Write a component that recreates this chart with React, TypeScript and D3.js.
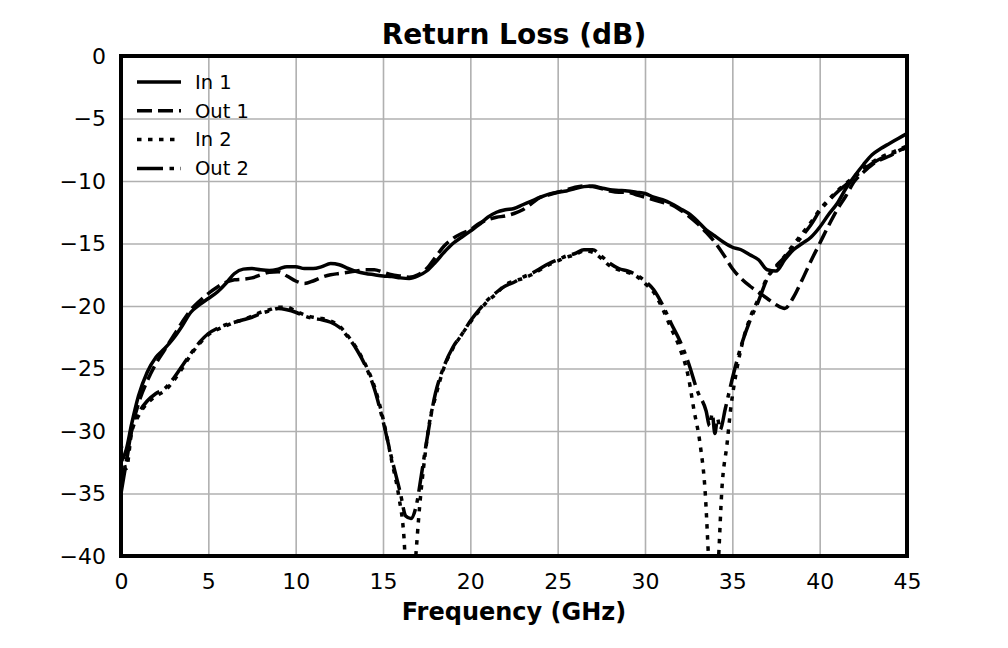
// App.tsx
import React, { useRef, useEffect } from 'react';
import * as d3 from 'd3';

// Frequency points (GHz) and return loss (dB)
const in1Freq = [
    0, 0.3, 0.6, 1, 1.5, 2, 2.5, 3, 3.5, 4, 4.5, 5, 5.5, 6, 6.5, 7, 7.5, 8, 8.5, 9, 9.5, 10,
    10.5, 11, 11.5, 12, 12.5, 13, 13.5, 14, 14.5, 15, 15.5, 16, 16.5, 17, 17.5, 18, 18.5, 19,
    19.5, 20, 20.5, 21, 21.5, 22, 22.5, 23, 23.5, 24, 24.5, 25, 25.5, 26, 26.5, 27, 27.5, 28,
    28.5, 29, 29.5, 30, 30.5, 31, 31.5, 32, 32.5, 33, 33.5, 34, 34.5, 35, 35.5, 36, 36.5, 37,
    37.5, 38, 38.5, 39, 39.5, 40, 40.5, 41, 41.5, 42, 42.5, 43, 43.5, 44, 44.5, 45,
];
const in1Values = [
    -32.5, -31.5, -29.5, -27.2, -25.3, -24.1, -23.4, -22.6, -21.6, -20.5, -19.9, -19.4, -18.9,
    -18.2, -17.4, -17.05, -17.0, -17.1, -17.15, -17.05, -16.85, -16.85, -17.0, -17.0, -16.85,
    -16.6, -16.7, -17.0, -17.25, -17.4, -17.5, -17.6, -17.65, -17.75, -17.8, -17.6, -17.2,
    -16.5, -15.7, -15.0, -14.5, -14.0, -13.5, -12.9, -12.5, -12.3, -12.2, -11.9, -11.6, -11.3,
    -11.05, -10.9, -10.8, -10.6, -10.45, -10.4, -10.55, -10.7, -10.75, -10.8, -10.9, -11.0,
    -11.3, -11.5, -11.8, -12.2, -12.6, -13.2, -13.9, -14.4, -14.9, -15.3, -15.5, -15.9, -16.3,
    -17.1, -17.2, -16.3, -15.5, -15.0, -14.5, -13.7, -12.7, -11.8, -10.6, -9.6, -8.7, -7.9,
    -7.4, -7.0, -6.6, -6.2,
];

const out1Freq = in1Freq;
const out1Values = [
    -34.0, -32.5, -30.0, -27.8, -26.0, -24.6, -23.5, -22.4, -21.3, -20.3, -19.6, -19.0, -18.5,
    -18.1, -17.9, -17.85, -17.75, -17.5, -17.3, -17.25, -17.6, -18.0, -18.2, -18.0, -17.7,
    -17.5, -17.4, -17.3, -17.2, -17.1, -17.1, -17.3, -17.5, -17.6, -17.7, -17.5, -17.0, -16.1,
    -15.2, -14.6, -14.2, -13.9, -13.4, -13.1, -12.9, -12.8, -12.6, -12.3, -11.8, -11.3, -11.1,
    -10.9, -10.7, -10.5, -10.4, -10.45, -10.6, -10.8, -10.9, -10.9, -11.1, -11.3, -11.5, -11.7,
    -11.9, -12.3, -12.8, -13.4, -14.1, -14.9, -15.9, -17.0, -17.8, -18.4, -18.9, -19.4, -19.9,
    -20.2, -19.3, -17.9, -16.4, -15.0, -13.6, -12.3, -11.2, -10.0, -9.3, -8.7, -8.3, -8.0,
    -7.6, -7.3,
];

const in2Freq = [
    0, 0.3, 0.6, 1, 1.5, 2, 2.5, 3, 3.5, 4, 4.5, 5, 5.5, 6, 6.5, 7, 7.5, 8, 8.5, 9, 9.5, 10,
    10.5, 11, 11.5, 12, 12.5, 13, 13.5, 14, 14.5, 15, 15.5, 15.9, 16.2, 16.5, 16.85, 17.1, 17.4,
    17.7, 18, 18.5, 19, 19.5, 20, 20.5, 21, 21.5, 22, 22.5, 23, 23.5, 24, 24.5, 25, 25.5, 26,
    26.5, 27, 27.5, 28, 28.5, 29, 29.5, 30, 30.5, 31, 31.5, 32, 32.5, 32.8, 33.15, 33.45,
    33.65, 33.9, 34.2, 34.4, 34.7, 34.9, 35.2, 35.5, 36, 36.5, 37, 37.5, 38, 38.5, 39, 39.5, 40,
    40.5, 41, 41.5, 42, 42.5, 43, 43.5, 44, 44.5, 45,
];
const in2Values = [
    -31.0, -33.0, -30.2, -28.8, -27.8, -27.2, -26.8, -26.0, -25.0, -23.9, -23.0, -22.3, -21.9,
    -21.6, -21.3, -21.1, -20.8, -20.5, -20.3, -20.1, -20.1, -20.4, -20.7, -20.9, -21.0, -21.2,
    -21.6, -22.4, -23.4, -24.7, -26.4, -29.0, -32.4, -35.2, -38.5, -47.0, -40.5, -36.0, -32.0,
    -29.0, -27.3, -24.9, -23.4, -22.3, -21.3, -20.4, -19.6, -19.0, -18.3, -18.0, -17.8, -17.5,
    -17.1, -16.7, -16.4, -16.1, -15.9, -15.6, -15.7, -16.2, -16.8, -17.1, -17.3, -17.6, -18.2,
    -18.9, -20.2, -21.8, -23.4, -25.8, -28.3, -31.0, -35.0, -40.5, -47.0, -40.5, -34.7, -31.0,
    -28.3, -25.5, -23.4, -21.0, -19.4, -17.7, -16.9, -16.0, -15.1, -14.2, -13.3, -12.3, -11.5,
    -10.8, -10.2, -9.6, -9.0, -8.5, -8.1, -7.8, -7.5, -7.2,
];

const out2Freq = [
    0, 0.3, 0.6, 1, 1.5, 2, 2.5, 3, 3.5, 4, 4.5, 5, 5.5, 6, 6.5, 7, 7.5, 8, 8.5, 9, 9.5, 10,
    10.5, 11, 11.5, 12, 12.5, 13, 13.5, 14, 14.5, 15, 15.5, 16, 16.3, 16.6, 16.9, 17.2, 17.5, 18,
    18.5, 19, 19.5, 20, 20.5, 21, 21.5, 22, 22.5, 23, 23.5, 24, 24.5, 25, 25.5, 26, 26.5, 27,
    27.5, 28, 28.5, 29, 29.5, 30, 30.5, 31, 31.5, 32, 32.5, 33, 33.5, 33.7, 33.85, 34, 34.15,
    34.3, 34.6, 35, 35.5, 36, 36.5, 37, 37.5, 38, 38.5, 39, 39.5, 40, 40.5, 41, 41.5, 42, 42.5,
    43, 43.5, 44, 44.5, 45,
];
const out2Values = [
    -35.0, -32.5, -30.0, -28.6, -27.6, -27.0, -26.6, -25.8, -24.8, -23.8, -22.9, -22.2, -21.8,
    -21.5, -21.3, -21.1, -20.9, -20.6, -20.4, -20.2, -20.3, -20.5, -20.8, -21.0, -21.1, -21.3,
    -21.7, -22.5, -23.5, -24.8, -26.6, -29.2, -32.2, -35.0, -36.8, -37.0, -36.0, -33.5, -30.8,
    -27.0, -24.8, -23.3, -22.3, -21.2, -20.3, -19.5, -18.9, -18.4, -18.1, -17.7, -17.4, -17.0,
    -16.6, -16.3, -16.0, -15.8, -15.5, -15.5, -16.0, -16.6, -17.0, -17.2, -17.5, -18.0, -18.7,
    -19.9, -21.4, -22.8, -24.6, -26.8, -28.4, -29.6, -28.6, -30.2, -29.0, -29.9, -28.2, -25.8,
    -23.2, -21.2, -19.6, -17.8, -16.8, -16.1, -15.3, -14.4, -13.5, -12.4, -11.6, -10.9, -10.3,
    -9.7, -9.1, -8.6, -8.2, -7.9, -7.6, -7.3,
];

const seriesNames = ['In 1', 'Out 1', 'In 2', 'Out 2'];
const xTicks = [0, 5, 10, 15, 20, 25, 30, 35, 40, 45];
const yTicks = [0, -5, -10, -15, -20, -25, -30, -35, -40];

// Return Loss chart component
const ReturnLossChart: React.FC = () => {
    const svgRef = useRef<SVGSVGElement | null>(null);

    useEffect(() => {
        if (!svgRef.current) return;
        const svg = d3.select(svgRef.current);
        svg.selectAll('*').remove();

        const width = 1008;
        const height = 648;
        const margin = { top: 56, right: 101, bottom: 92, left: 121 };
        const innerWidth = width - margin.left - margin.right;
        const innerHeight = height - margin.top - margin.bottom;
        const font = 'DejaVu Sans, sans-serif';

        const x = d3.scaleLinear().domain([0, 45]).range([0, innerWidth]);
        const y = d3.scaleLinear().domain([-40, 0]).range([innerHeight, 0]);

        const g = svg
            .append('g')
            .attr('transform', `translate(${margin.left},${margin.top})`);

        // clip region so nulls that dip under -40 dB are cut at the frame
        svg.append('defs')
            .append('clipPath')
            .attr('id', 'plot-clip')
            .append('rect')
            .attr('width', innerWidth)
            .attr('height', innerHeight);

        // grid lines
        g.append('g')
            .attr('transform', `translate(0,${innerHeight})`)
            .call(d3.axisBottom(x).tickValues(xTicks).tickSize(-innerHeight).tickFormat(() => ''))
            .call((a) => a.select('.domain').remove())
            .selectAll('line')
            .attr('stroke', '#b0b0b0')
            .attr('stroke-width', 1.6);
        g.append('g')
            .call(d3.axisLeft(y).tickValues(yTicks).tickSize(-innerWidth).tickFormat(() => ''))
            .call((a) => a.select('.domain').remove())
            .selectAll('line')
            .attr('stroke', '#b0b0b0')
            .attr('stroke-width', 1.6);

        // tick labels
        const xAxis = g
            .append('g')
            .attr('transform', `translate(0,${innerHeight})`)
            .call(d3.axisBottom(x).tickValues(xTicks).tickSize(0).tickPadding(17).tickFormat(d3.format('d')));
        xAxis.select('.domain').remove();
        xAxis.selectAll('text').attr('font-family', font).attr('font-size', 22).attr('fill', '#000');

        const yAxis = g
            .append('g')
            .call(
                d3.axisLeft(y).tickValues(yTicks).tickSize(0).tickPadding(15)
                    .tickFormat((d) => d3.format('d')(d as number).replace('-', '\u2212')),
            );
        yAxis.select('.domain').remove();
        yAxis.selectAll('text').attr('font-family', font).attr('font-size', 22).attr('fill', '#000');

        // curves
        const dashes = ['none', '15,6', '4.5,6.5', '26,6.5,4.5,6.5'];
        const series = [
            { f: in1Freq, v: in1Values },
            { f: out1Freq, v: out1Values },
            { f: in2Freq, v: in2Values },
            { f: out2Freq, v: out2Values },
        ];
        const line = d3
            .line<[number, number]>()
            .x((d) => x(d[0]))
            .y((d) => y(d[1]))
            .curve(d3.curveMonotoneX);

        const curves = g.append('g').attr('clip-path', 'url(#plot-clip)');
        series.forEach((s, i) => {
            const pts = s.f.map((f, j) => [f, s.v[j]] as [number, number]);
            curves
                .append('path')
                .datum(pts)
                .attr('d', line)
                .attr('fill', 'none')
                .attr('stroke', '#000')
                .attr('stroke-width', 3.5)
                .attr('stroke-dasharray', dashes[i]);
        });

        // frame
        g.append('rect')
            .attr('width', innerWidth)
            .attr('height', innerHeight)
            .attr('fill', 'none')
            .attr('stroke', '#000')
            .attr('stroke-width', 4);

        // legend
        const legend = g.append('g').attr('transform', 'translate(16,26)');
        seriesNames.forEach((name, i) => {
            const row = legend.append('g').attr('transform', `translate(0,${i * 28.8})`);
            row.append('line')
                .attr('x1', 0)
                .attr('x2', 44)
                .attr('stroke', '#000')
                .attr('stroke-width', 3.5)
                .attr('stroke-dasharray', dashes[i]);
            row.append('text')
                .attr('x', 58)
                .attr('dy', '0.35em')
                .attr('font-family', font)
                .attr('font-size', 19.5)
                .text(name);
        });

        // title and axis label
        svg.append('text')
            .attr('x', margin.left + innerWidth / 2)
            .attr('y', 44)
            .attr('text-anchor', 'middle')
            .attr('font-family', font)
            .attr('font-weight', 'bold')
            .attr('font-size', 28)
            .text('Return Loss (dB)');
        svg.append('text')
            .attr('x', margin.left + innerWidth / 2)
            .attr('y', 620)
            .attr('text-anchor', 'middle')
            .attr('font-family', font)
            .attr('font-weight', 'bold')
            .attr('font-size', 24)
            .text('Frequency (GHz)');
    }, []);

    return (
        <svg
            ref={svgRef}
            width={1008}
            height={648}
            style={{ position: 'absolute', left: 0, top: 0, background: '#fff' }}
        ></svg>
    );
};

export default function App() {
    return <ReturnLossChart />;
}
